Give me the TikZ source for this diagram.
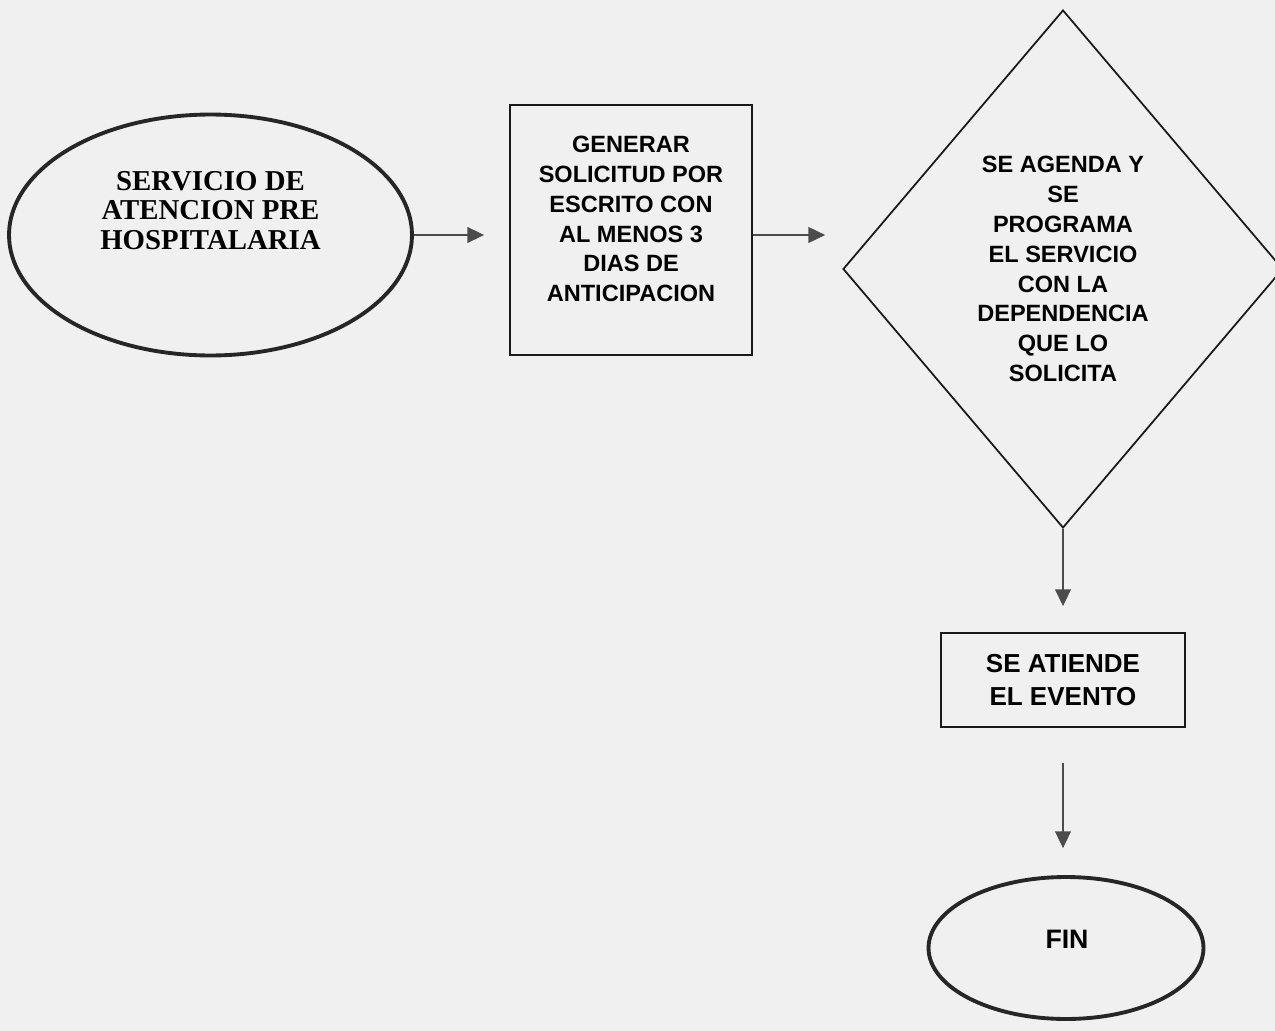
\documentclass[tikz,border=0pt]{standalone}
\usepackage{fontspec}
\setmainfont{Liberation Serif}
\setsansfont{Liberation Sans}
\usepackage{tikz}
\usetikzlibrary{shapes.geometric,arrows.meta,positioning,calc}

\begin{document}
\begin{tikzpicture}[x=0.02cm, y=-0.02cm,
    terminal/.style={ellipse, draw=black!85, line width=2.2pt},
    proceso/.style={rectangle, draw=black!90, line width=1.1pt, align=center, font=\sffamily\bfseries\fontsize{14.8}{19.3}\selectfont},
    decision/.style={diamond, draw=black!90, line width=1pt, inner sep=0pt, minimum width=8.8cm, minimum height=10.36cm, align=center, font=\sffamily\bfseries\fontsize{13.4}{17}\selectfont},
    texto/.style={align=center, font=\sffamily\bfseries\fontsize{13.4}{17}\selectfont},
    titulo/.style={align=center, font=\rmfamily\bfseries\fontsize{16.4}{16.7}\selectfont},
    flecha/.style={-{Triangle[length=9.5pt,width=9pt]}, draw=black!70, line width=0.75pt}
]
    % Fondo
    \fill[black!6] (0,0) rectangle (1275,1031);
    \useasboundingbox (0,0) rectangle (1275,1031);

    % Inicio
    \node[terminal, minimum width=8.06cm, minimum height=4.82cm] (inicio) at (210.5,235) {};
    \node[titulo] (tinicio) at (210.5,210.5) {SERVICIO DE\\ATENCION PRE\\HOSPITALARIA};

    % Solicitud
    \node[proceso, minimum width=4.84cm, minimum height=5cm] (solicitud) at (631,230) {};
    \node[texto] (tsolicitud) at (631,219) {GENERAR\\SOLICITUD POR\\ESCRITO CON\\AL MENOS 3\\DIAS DE\\ANTICIPACION};

    % Agenda
    \node[decision] (agenda) at (1063,269) {SE AGENDA Y\\SE\\PROGRAMA\\EL SERVICIO\\CON LA\\DEPENDENCIA\\QUE LO\\SOLICITA};

    % Evento
    \node[proceso, minimum width=4.88cm, minimum height=1.88cm] (atiende) at (1063,680) {SE ATIENDE\\EL EVENTO};

    % Fin
    \node[terminal, minimum width=5.5cm, minimum height=2.84cm] (fin) at (1066,948) {};
    \node[texto, font=\sffamily\bfseries\fontsize{15.2}{17}\selectfont] (tfin) at (1067,939) {FIN};

    % Flechas
    \draw[flecha, shorten >=0.5cm] (inicio.east) -- (inicio.east -| solicitud.west);
    \draw[flecha, shorten >=0.34cm] (solicitud.east |- inicio.east) -- (agenda.west |- inicio.east);
    \draw[flecha, shorten >=0.52cm] (agenda.south) -- (atiende.north);
    \draw[flecha, shorten <=0.7cm, shorten >=0.54cm] (atiende.south) -- (atiende.south |- fin.north);
\end{tikzpicture}
\end{document}
